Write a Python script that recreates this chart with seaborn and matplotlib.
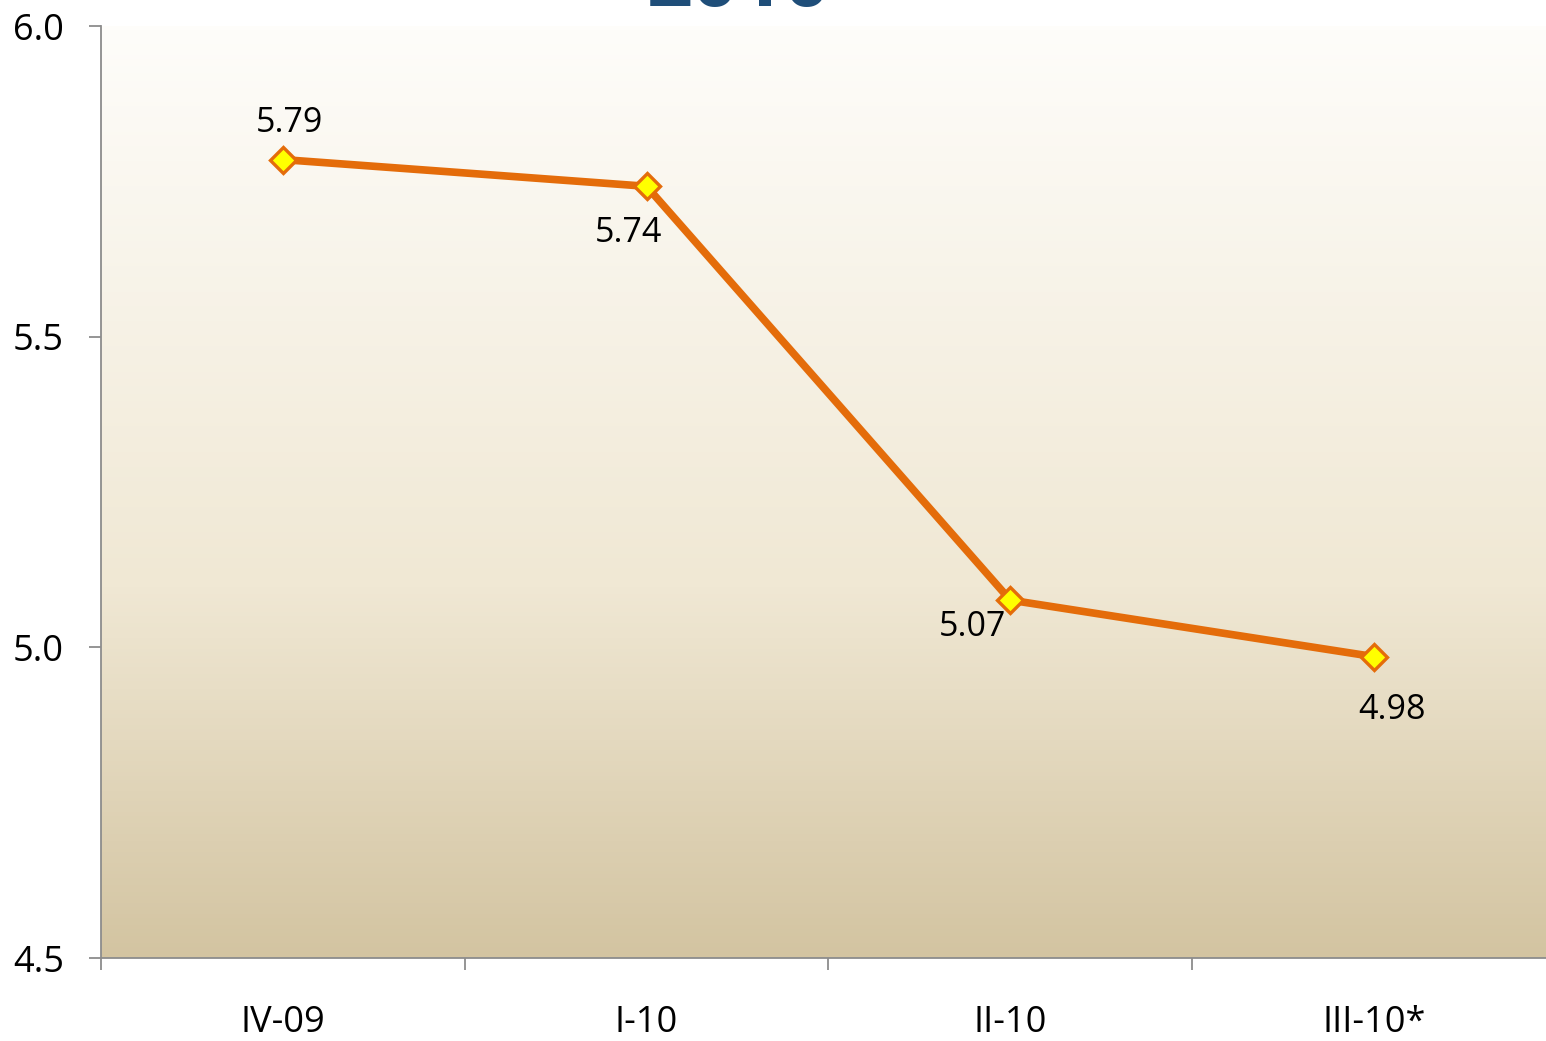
import numpy as np
import matplotlib
matplotlib.use("Agg")
import matplotlib.pyplot as plt
import seaborn as sns
import pandas as pd

# ── Data ───────────────────────────────────────────────────────────────────────
quarters = ["IV-09", "I-10", "II-10", "III-10*"]
values = [5.785, 5.742, 5.076, 4.985]
value_labels = ["5.79", "5.74", "5.07", "4.98"]
# label offsets in pixels (dx, dy) relative to each point
label_offsets = [(7, 37), (-18, -47), (-38, -27), (18, -53)]

df = pd.DataFrame({"quarter": quarters, "value": values})

# ── Style ──────────────────────────────────────────────────────────────────────
sns.set_style("white")
plt.rcParams["font.family"] = ["Open Sans", "DejaVu Sans"]

fig = plt.figure(figsize=(15.46, 10.41), dpi=100)
ax = fig.add_axes([101 / 1546, 1 - 958 / 1041, 1 - 101 / 1546, (958 - 26) / 1041])

# gradient background
grad = np.linspace(0, 1, 256)[:, None]
top = np.array([254, 253, 250]) / 255
mid = np.array([240, 232, 212]) / 255
bot = np.array([211, 196, 161]) / 255
cols = np.where(grad < 0.6,
                top + (mid - top) * (grad / 0.6),
                mid + (bot - mid) * ((grad - 0.6) / 0.4))
img = cols.reshape(256, 1, 3)
ax.imshow(img, extent=[0, 1, 0, 1], transform=ax.transAxes, aspect="auto",
          origin="upper", zorder=0)

# ── Line ───────────────────────────────────────────────────────────────────────
sns.lineplot(data=df, x="quarter", y="value", sort=False, ax=ax,
             color="#E46C0A", linewidth=5.5, marker="D", markersize=13,
             markerfacecolor="#FFFF00", markeredgecolor="#E46C0A",
             markeredgewidth=2.4, zorder=3)

for i, (v, lab, (dx, dy)) in enumerate(zip(values, value_labels, label_offsets)):
    ax.annotate(lab, (i, v), xytext=(dx, dy), textcoords="offset pixels",
                ha="center", va="center", fontsize=24.5, color="black", zorder=4)

# ── Axes ───────────────────────────────────────────────────────────────────────
ax.set_xlim(-0.5, 3.473)
ax.set_ylim(4.5, 6.0)
ax.set_yticks([4.5, 5.0, 5.5, 6.0])
ax.set_yticklabels(["4.5", "5.0", "5.5", "6.0"])
ax.set_xticks(range(len(quarters)))
ax.set_xticklabels(quarters)
ax.set_xticks([-0.5, 0.5, 1.5, 2.5], minor=True)
ax.tick_params(axis="x", which="major", length=0, pad=34, labelsize=26,
               labelcolor="black")
ax.tick_params(axis="x", which="minor", length=8.6, width=1.3, color="#8c8c8c",
               direction="out", bottom=True)
ax.tick_params(axis="y", length=8.6, width=1.3, color="#8c8c8c", direction="out",
               left=True, pad=18, labelsize=26, labelcolor="black")
ax.set_xlabel("")
ax.set_ylabel("")
for s in ["top", "right"]:
    ax.spines[s].set_visible(False)
for s in ["left", "bottom"]:
    ax.spines[s].set_color("#8c8c8c")
    ax.spines[s].set_linewidth(1.3)

# title cut off at the top edge (as in the source slide)
fig.text(0.478, 1 - 6 / 1041, "2010", ha="center", va="baseline",
         fontsize=58, fontweight="bold", color="#1F4E79")

fig.savefig("out.png", dpi=100)
